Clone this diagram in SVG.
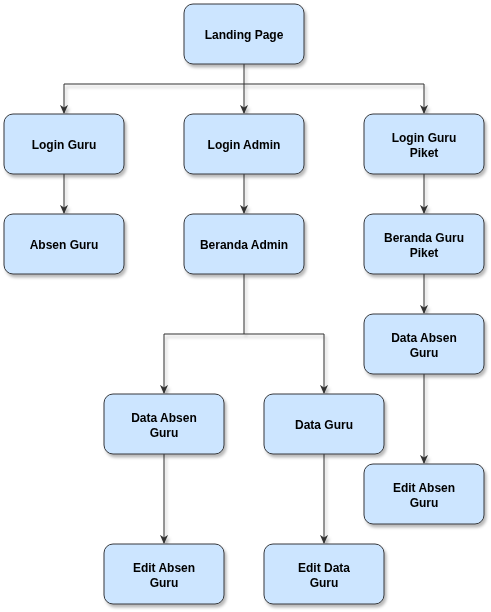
<svg xmlns="http://www.w3.org/2000/svg" width="491" height="612" viewBox="0 0 491 612">
<style>
.box{fill:#cce5ff;stroke:#36393d;stroke-width:1}
.t{font-family:"Liberation Sans",Arial,sans-serif;font-size:12px;font-weight:bold;fill:#000;text-anchor:middle}
.e{fill:none;stroke:#333333;stroke-width:1}
</style>
<defs>
<filter id="sh" x="-10%" y="-10%" width="130%" height="140%">
<feDropShadow dx="2" dy="3" stdDeviation="1.5" flood-color="#000" flood-opacity="0.28"/>
</filter>
<marker id="ar" viewBox="0 0 10 10" refX="9" refY="5" markerWidth="9" markerHeight="9" markerUnits="userSpaceOnUse" orient="auto">
<path d="M0,0.5 L10,5 L0,9.5 L3,5 Z" fill="#333333"/>
</marker>
</defs>
<rect width="491" height="612" fill="#ffffff"/>
<g id="connectors" filter="url(#sh)">
<path class="e" d="M244,64 V84 H64 V113" marker-end="url(#ar)"/>
<path class="e" d="M244,84 V113" marker-end="url(#ar)"/>
<path class="e" d="M244,84 H424 V113" marker-end="url(#ar)"/>
<path class="e" d="M64,174 V213" marker-end="url(#ar)"/>
<path class="e" d="M244,174 V213" marker-end="url(#ar)"/>
<path class="e" d="M424,174 V213" marker-end="url(#ar)"/>
<path class="e" d="M424,274 V313" marker-end="url(#ar)"/>
<path class="e" d="M424,374 V463" marker-end="url(#ar)"/>
<path class="e" d="M244,274 V334 H164 V393" marker-end="url(#ar)"/>
<path class="e" d="M244,334 H324 V393" marker-end="url(#ar)"/>
<path class="e" d="M164,454 V543" marker-end="url(#ar)"/>
<path class="e" d="M324,454 V543" marker-end="url(#ar)"/>
</g>
<g id="landing" filter="url(#sh)"><rect class="box" x="184" y="4" width="120" height="60" rx="9"/><text class="t" x="244" y="38.5">Landing Page</text></g>
<g id="loginGuru" filter="url(#sh)"><rect class="box" x="4" y="114" width="120" height="60" rx="9"/><text class="t" x="64" y="148.5">Login Guru</text></g>
<g id="loginAdmin" filter="url(#sh)"><rect class="box" x="184" y="114" width="120" height="60" rx="9"/><text class="t" x="244" y="148.5">Login Admin</text></g>
<g id="loginPiket" filter="url(#sh)"><rect class="box" x="364" y="114" width="120" height="60" rx="9"/><text class="t" x="424" y="141.5">Login Guru</text><text class="t" x="424" y="156.5">Piket</text></g>
<g id="absenGuru" filter="url(#sh)"><rect class="box" x="4" y="214" width="120" height="60" rx="9"/><text class="t" x="64" y="248.5">Absen Guru</text></g>
<g id="berandaAdmin" filter="url(#sh)"><rect class="box" x="184" y="214" width="120" height="60" rx="9"/><text class="t" x="244" y="248.5">Beranda Admin</text></g>
<g id="berandaPiket" filter="url(#sh)"><rect class="box" x="364" y="214" width="120" height="60" rx="9"/><text class="t" x="424" y="241.5">Beranda Guru</text><text class="t" x="424" y="256.5">Piket</text></g>
<g id="dataAbsenPiket" filter="url(#sh)"><rect class="box" x="364" y="314" width="120" height="60" rx="9"/><text class="t" x="424" y="341.5">Data Absen</text><text class="t" x="424" y="356.5">Guru</text></g>
<g id="editAbsenPiket" filter="url(#sh)"><rect class="box" x="364" y="464" width="120" height="60" rx="9"/><text class="t" x="424" y="491.5">Edit Absen</text><text class="t" x="424" y="506.5">Guru</text></g>
<g id="dataAbsenAdmin" filter="url(#sh)"><rect class="box" x="104" y="394" width="120" height="60" rx="9"/><text class="t" x="164" y="421.5">Data Absen</text><text class="t" x="164" y="436.5">Guru</text></g>
<g id="dataGuru" filter="url(#sh)"><rect class="box" x="264" y="394" width="120" height="60" rx="9"/><text class="t" x="324" y="428.5">Data Guru</text></g>
<g id="editAbsenAdmin" filter="url(#sh)"><rect class="box" x="104" y="544" width="120" height="60" rx="9"/><text class="t" x="164" y="571.5">Edit Absen</text><text class="t" x="164" y="586.5">Guru</text></g>
<g id="editDataGuru" filter="url(#sh)"><rect class="box" x="264" y="544" width="120" height="60" rx="9"/><text class="t" x="324" y="571.5">Edit Data</text><text class="t" x="324" y="586.5">Guru</text></g>
</svg>
